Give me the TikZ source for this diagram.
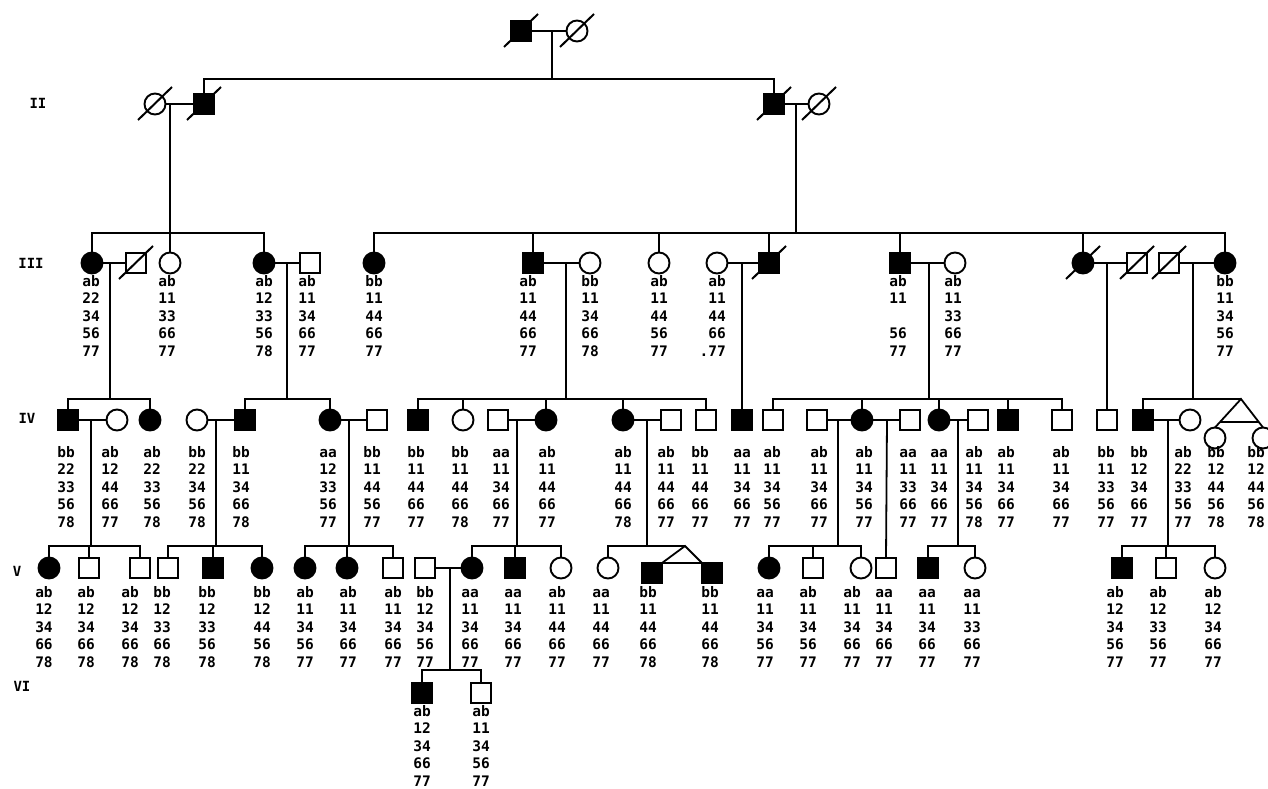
\documentclass[tikz,border=0pt]{standalone}
\usepackage{fontspec}
\usetikzlibrary{calc}
\newfontfamily\gtf{DejaVu Sans Mono}
\newcommand\deadmark[1]{\draw[slash] (#1.center) ++(-17,16) -- ++(34,-33);}
\newcommand\gtxt[5]{\rule{0pt}{11pt}#1\\#2\\#3\\#4\\#5}
\begin{document}
\begin{tikzpicture}[x=1pt,y=-1pt,
  every node/.style={inner sep=0pt, outer sep=0pt},
  sym/.style={draw, line width=1.9pt, minimum size=20pt},
  msq/.style={sym, rectangle},
  fsq/.style={msq, fill=black},
  oci/.style={sym, circle, minimum size=21pt},
  fci/.style={oci, fill=black},
  ln/.style={line width=1.8pt},
  slash/.style={line width=2pt},
  gt/.style={font=\gtf\bfseries\fontsize{14.5}{17.5}\selectfont, align=center, anchor=north},
  gen/.style={font=\gtf\bfseries\fontsize{14}{16}\selectfont}
]
\useasboundingbox (0,0) rectangle (1268,789);
\fill[white] (0,0) rectangle (1268,789);

% generation labels
\node[gen] (gII) at (38,103) {II};
\node[gen] (gIII) at (31,263) {III};
\node[gen] (gIV) at (27,418) {IV};
\node[gen] (gV) at (17,571) {V};
\node[gen] (gVI) at (22,686) {VI};

% ---------------- Generation I
\node[fsq] (I1) at (521,31) {};
\node[oci] (I2) at (577,31) {};
\draw[ln] (I1) -- (I2);
\coordinate (mI) at (552,31);
\coordinate (sII) at (552,79);
\draw[ln] (mI) -- (sII);

% ---------------- Generation II
\node[oci] (II1) at (155,104) {};
\node[fsq] (II2) at (204,104) {};
\node[fsq] (II3) at (774,104) {};
\node[oci] (II4) at (819,104) {};
\draw[ln] (II2.north) |- (sII) -| (II3.north);
\draw[ln] (II1) -- (II2);
\draw[ln] (II3) -- (II4);
\coordinate (mIIa) at (170,104); \coordinate (sIIIa) at (170,233);
\coordinate (mIIb) at (796,104); \coordinate (sIIIb) at (796,233);
\draw[ln] (mIIa) -- (sIIIa);
\draw[ln] (mIIb) -- (sIIIb);

% ---------------- Generation III
\node[fci] (III1) at (92,263) {};
\node[msq] (III2) at (136,263) {};
\node[oci] (III3) at (170,263) {};
\node[fci] (III4) at (264,263) {};
\node[msq] (III5) at (310,263) {};
\node[fci] (III6) at (374,263) {};
\node[fsq] (III7) at (533,263) {};
\node[oci] (III8) at (590,263) {};
\node[oci] (III9) at (659,263) {};
\node[oci] (III10) at (717,263) {};
\node[fsq] (III11) at (769,263) {};
\node[fsq] (III12) at (900,263) {};
\node[oci] (III13) at (955,263) {};
\node[fci] (III14) at (1083,263) {};
\node[msq] (III15) at (1137,263) {};
\node[msq] (III16) at (1169,263) {};
\node[fci] (III17) at (1225,263) {};

\draw[ln] (III1.north) |- (sIIIa) -| (III4.north);
\draw[ln] (sIIIa) -- (III3.north);
\draw[ln] (III6.north) |- (sIIIb) -| (III17.north);
\foreach \n in {III7,III9,III11,III12,III14}
  \draw[ln] (\n.north) -- (\n.north |- sIIIb);

\draw[ln] (III1) -- (III2);
\draw[ln] (III4) -- (III5);
\draw[ln] (III7) -- (III8);
\draw[ln] (III10) -- (III11);
\draw[ln] (III12) -- (III13);
\draw[ln] (III14) -- (III15);
\draw[ln] (III16) -- (III17);

\coordinate (m3a) at (110,263); \coordinate (s4a) at (110,399);
\coordinate (m3b) at (287,263); \coordinate (s4b) at (287,399);
\coordinate (m3c) at (566,263); \coordinate (s4c) at (566,399);
\coordinate (m3d) at (742,263);
\coordinate (m3e) at (929,263); \coordinate (s4d) at (929,399);
\coordinate (m3f) at (1107,263);
\coordinate (m3g) at (1193,263); \coordinate (s4e) at (1193,399);
\draw[ln] (m3a) -- (s4a);
\draw[ln] (m3b) -- (s4b);
\draw[ln] (m3c) -- (s4c);
\draw[ln] (m3e) -- (s4d);
\draw[ln] (m3g) -- (s4e);

\node[gt] (L31) at (91,275) {\gtxt{ab}{22}{34}{56}{77}};
\node[gt] (L33) at (167,275) {\gtxt{ab}{11}{33}{66}{77}};
\node[gt] (L34) at (264,275) {\gtxt{ab}{12}{33}{56}{78}};
\node[gt] (L35) at (307,275) {\gtxt{ab}{11}{34}{66}{77}};
\node[gt] (L36) at (374,275) {\gtxt{bb}{11}{44}{66}{77}};
\node[gt] (L37) at (528,275) {\gtxt{ab}{11}{44}{66}{77}};
\node[gt] (L38) at (590,275) {\gtxt{bb}{11}{34}{66}{78}};
\node[gt] (L39) at (659,275) {\gtxt{ab}{11}{44}{56}{77}};
\node[gt] (L310) at (717,275) {\gtxt{ab}{11}{44}{66}{\llap{.}77}};
\node[gt] (L312) at (898,275) {\gtxt{ab}{11}{\mbox{}}{56}{77}};
\node[gt] (L313) at (953,275) {\gtxt{ab}{11}{33}{66}{77}};
\node[gt] (L317) at (1225,275) {\gtxt{bb}{11}{34}{56}{77}};

% ---------------- Generation IV
\node[fsq] (IV1) at (68,420) {};
\node[oci] (IV2) at (117,420) {};
\node[fci] (IV3) at (150,420) {};
\node[oci] (IV4) at (197,420) {};
\node[fsq] (IV5) at (245,420) {};
\node[fci] (IV6) at (330,420) {};
\node[msq] (IV7) at (377,420) {};
\node[fsq] (IV8) at (418,420) {};
\node[oci] (IV9) at (463,420) {};
\node[msq] (IV10) at (498,420) {};
\node[fci] (IV11) at (546,420) {};
\node[fci] (IV12) at (623,420) {};
\node[msq] (IV13) at (671,420) {};
\node[msq] (IV14) at (706,420) {};
\node[fsq] (IV15) at (742,420) {};
\node[msq] (IV16) at (773,420) {};
\node[msq] (IV17) at (817,420) {};
\node[fci] (IV18) at (862,420) {};
\node[msq] (IV19) at (910,420) {};
\node[fci] (IV20) at (939,420) {};
\node[msq] (IV21) at (978,420) {};
\node[fsq] (IV22) at (1008,420) {};
\node[msq] (IV23) at (1062,420) {};
\node[msq] (IV24) at (1107,420) {};
\node[fsq] (IV25) at (1143,420) {};
\node[oci] (IV26) at (1190,420) {};
\node[oci] (IV27) at (1215,438) {};
\node[oci] (IV28) at (1263,438) {};
\coordinate (apIV) at (1241,399);

\draw[ln] (m3d) -- (IV15.north);
\draw[ln] (m3f) -- (IV24.north);
\draw[ln] (IV1.north) |- (s4a) -| (IV3.north);
\draw[ln] (IV5.north) |- (s4b) -| (IV6.north);
\draw[ln] (IV8.north) |- (s4c) -| (IV14.north);
\foreach \n in {IV9,IV11,IV12}
  \draw[ln] (\n.north) -- (\n.north |- s4c);
\draw[ln] (IV16.north) |- (s4d) -| (IV23.north);
\foreach \n in {IV18,IV20,IV22}
  \draw[ln] (\n.north) -- (\n.north |- s4d);
\draw[ln] (IV25.north) |- (s4e) -- (apIV);
\draw[ln] (IV27.north) -- (apIV) -- (IV28.north);
\draw[ln] ($(apIV)!0.8!(IV27.north)$) -- ($(apIV)!0.8!(IV28.north)$);

\draw[ln] (IV1) -- (IV2);
\draw[ln] (IV4) -- (IV5);
\draw[ln] (IV6) -- (IV7);
\draw[ln] (IV10) -- (IV11);
\draw[ln] (IV12) -- (IV13);
\draw[ln] (IV17) -- (IV18);
\draw[ln] (IV18) -- (IV19);
\draw[ln] (IV20) -- (IV21);
\draw[ln] (IV25) -- (IV26);

\coordinate (m4a) at (91,420);   \coordinate (s5a) at (91,546);
\coordinate (m4b) at (216,420);  \coordinate (s5b) at (216,546);
\coordinate (m4c) at (349,420);  \coordinate (s5c) at (349,546);
\coordinate (m4d) at (517,420);  \coordinate (s5d) at (517,546);
\coordinate (m4e) at (647,420);  \coordinate (s5e) at (647,546);
\coordinate (m4f) at (838,420);  \coordinate (s5f) at (838,546);
\coordinate (m4g) at (887,420);
\coordinate (m4h) at (958,420);  \coordinate (s5g) at (958,546);
\coordinate (m4i) at (1168,420); \coordinate (s5h) at (1168,546);
\draw[ln] (m4a) -- (s5a);
\draw[ln] (m4b) -- (s5b);
\draw[ln] (m4c) -- (s5c);
\draw[ln] (m4d) -- (s5d);
\draw[ln] (m4e) -- (s5e);
\draw[ln] (m4f) -- (s5f);
\draw[ln] (m4h) -- (s5g);
\draw[ln] (m4i) -- (s5h);

\node[gt] (L41) at (66,446) {\gtxt{bb}{22}{33}{56}{78}};
\node[gt] (L42) at (110,446) {\gtxt{ab}{12}{44}{66}{77}};
\node[gt] (L43) at (152,446) {\gtxt{ab}{22}{33}{56}{78}};
\node[gt] (L44) at (197,446) {\gtxt{bb}{22}{34}{56}{78}};
\node[gt] (L45) at (241,446) {\gtxt{bb}{11}{34}{66}{78}};
\node[gt] (L46) at (328,446) {\gtxt{aa}{12}{33}{56}{77}};
\node[gt] (L47) at (372,446) {\gtxt{bb}{11}{44}{56}{77}};
\node[gt] (L48) at (416,446) {\gtxt{bb}{11}{44}{66}{77}};
\node[gt] (L49) at (460,446) {\gtxt{bb}{11}{44}{66}{78}};
\node[gt] (L410) at (501,446) {\gtxt{aa}{11}{34}{66}{77}};
\node[gt] (L411) at (547,446) {\gtxt{ab}{11}{44}{66}{77}};
\node[gt] (L412) at (623,446) {\gtxt{ab}{11}{44}{66}{78}};
\node[gt] (L413) at (666,446) {\gtxt{ab}{11}{44}{66}{77}};
\node[gt] (L414) at (700,446) {\gtxt{bb}{11}{44}{66}{77}};
\node[gt] (L415) at (742,446) {\gtxt{aa}{11}{34}{66}{77}};
\node[gt] (L416) at (772,446) {\gtxt{ab}{11}{34}{56}{77}};
\node[gt] (L417) at (819,446) {\gtxt{ab}{11}{34}{66}{77}};
\node[gt] (L418) at (864,446) {\gtxt{ab}{11}{34}{56}{77}};
\node[gt] (L419) at (908,446) {\gtxt{aa}{11}{33}{66}{77}};
\node[gt] (L420) at (939,446) {\gtxt{aa}{11}{34}{66}{77}};
\node[gt] (L421) at (974,446) {\gtxt{ab}{11}{34}{56}{78}};
\node[gt] (L422) at (1006,446) {\gtxt{ab}{11}{34}{66}{77}};
\node[gt] (L423) at (1061,446) {\gtxt{ab}{11}{34}{66}{77}};
\node[gt] (L424) at (1106,446) {\gtxt{bb}{11}{33}{56}{77}};
\node[gt] (L425) at (1139,446) {\gtxt{bb}{12}{34}{66}{77}};
\node[gt] (L426) at (1183,446) {\gtxt{ab}{22}{33}{56}{77}};
\node[gt] (L427) at (1216,446) {\gtxt{bb}{12}{44}{56}{78}};
\node[gt] (L428) at (1256,446) {\gtxt{bb}{12}{44}{56}{78}};

% ---------------- Generation V
\node[fci] (V1) at (49,568) {};
\node[msq] (V2) at (89,568) {};
\node[msq] (V3) at (140,568) {};
\node[msq] (V4) at (168,568) {};
\node[fsq] (V5) at (213,568) {};
\node[fci] (V6) at (262,568) {};
\node[fci] (V7) at (305,568) {};
\node[fci] (V8) at (347,568) {};
\node[msq] (V9) at (393,568) {};
\node[msq] (V10) at (425,568) {};
\node[fci] (V11) at (472,568) {};
\node[fsq] (V12) at (515,568) {};
\node[oci] (V13) at (561,568) {};
\node[oci] (V14) at (608,568) {};
\node[fsq] (V15) at (652,573) {};
\node[fsq] (V16) at (712,573) {};
\node[fci] (V17) at (769,568) {};
\node[msq] (V18) at (813,568) {};
\node[oci] (V19) at (861,568) {};
\node[msq] (V20) at (886,568) {};
\node[fsq] (V21) at (928,568) {};
\node[oci] (V22) at (975,568) {};
\node[fsq] (V23) at (1122,568) {};
\node[msq] (V24) at (1166,568) {};
\node[oci] (V25) at (1215,568) {};
\coordinate (apV) at (685,546);

\draw[ln] (V1.north) |- (s5a) -| (V3.north);
\draw[ln] (V2.north) -- (V2.north |- s5a);
\draw[ln] (V4.north) |- (s5b) -| (V6.north);
\draw[ln] (V5.north) -- (V5.north |- s5b);
\draw[ln] (V7.north) |- (s5c) -| (V9.north);
\draw[ln] (V8.north) -- (V8.north |- s5c);
\draw[ln] (V11.north) |- (s5d) -| (V13.north);
\draw[ln] (V12.north) -- (V12.north |- s5d);
\draw[ln] (V14.north) |- (s5e) -- (apV);
\draw[ln] (V15.north east) -- (apV) -- (V16.north west);
\draw[ln] (V15.north east) -- (V16.north west);
\draw[ln] (V17.north) |- (s5f) -| (V19.north);
\draw[ln] (V18.north) -- (V18.north |- s5f);
\draw[ln] (m4g) -- (V20.north);
\draw[ln] (V21.north) |- (s5g) -| (V22.north);
\draw[ln] (V23.north) |- (s5h) -| (V25.north);
\draw[ln] (V24.north) -- (V24.north |- s5h);

\draw[ln] (V10) -- (V11);
\coordinate (m5) at (450,568); \coordinate (s6) at (450,670);
\draw[ln] (m5) -- (s6);

\node[gt] (L51) at (44,586) {\gtxt{ab}{12}{34}{66}{78}};
\node[gt] (L52) at (86,586) {\gtxt{ab}{12}{34}{66}{78}};
\node[gt] (L53) at (130,586) {\gtxt{ab}{12}{34}{66}{78}};
\node[gt] (L54) at (162,586) {\gtxt{bb}{12}{33}{66}{78}};
\node[gt] (L55) at (207,586) {\gtxt{bb}{12}{33}{56}{78}};
\node[gt] (L56) at (262,586) {\gtxt{bb}{12}{44}{56}{78}};
\node[gt] (L57) at (305,586) {\gtxt{ab}{11}{34}{56}{77}};
\node[gt] (L58) at (348,586) {\gtxt{ab}{11}{34}{66}{77}};
\node[gt] (L59) at (393,586) {\gtxt{ab}{11}{34}{66}{77}};
\node[gt] (L510) at (425,586) {\gtxt{bb}{12}{34}{56}{77}};
\node[gt] (L511) at (470,586) {\gtxt{aa}{11}{34}{66}{77}};
\node[gt] (L512) at (513,586) {\gtxt{aa}{11}{34}{66}{77}};
\node[gt] (L513) at (557,586) {\gtxt{ab}{11}{44}{66}{77}};
\node[gt] (L514) at (601,586) {\gtxt{aa}{11}{44}{66}{77}};
\node[gt] (L515) at (648,586) {\gtxt{bb}{11}{44}{66}{78}};
\node[gt] (L516) at (710,586) {\gtxt{bb}{11}{44}{66}{78}};
\node[gt] (L517) at (765,586) {\gtxt{aa}{11}{34}{56}{77}};
\node[gt] (L518) at (808,586) {\gtxt{ab}{11}{34}{56}{77}};
\node[gt] (L519) at (852,586) {\gtxt{ab}{11}{34}{66}{77}};
\node[gt] (L520) at (884,586) {\gtxt{aa}{11}{34}{66}{77}};
\node[gt] (L521) at (927,586) {\gtxt{aa}{11}{34}{66}{77}};
\node[gt] (L522) at (972,586) {\gtxt{aa}{11}{33}{66}{77}};
\node[gt] (L523) at (1115,586) {\gtxt{ab}{12}{34}{56}{77}};
\node[gt] (L524) at (1158,586) {\gtxt{ab}{12}{33}{56}{77}};
\node[gt] (L525) at (1213,586) {\gtxt{ab}{12}{34}{66}{77}};

% ---------------- Generation VI
\node[fsq] (VI1) at (422,693) {};
\node[msq] (VI2) at (481,693) {};
\draw[ln] (VI1.north) |- (s6) -| (VI2.north);
\node[gt] (L61) at (422,705) {\gtxt{ab}{12}{34}{66}{77}};
\node[gt] (L62) at (481,705) {\gtxt{ab}{11}{34}{56}{77}};

% ---------------- deceased marks
\deadmark{I1}
\deadmark{I2}
\deadmark{II1}
\deadmark{II2}
\deadmark{II3}
\deadmark{II4}
\deadmark{III2}
\deadmark{III11}
\deadmark{III14}
\deadmark{III15}
\deadmark{III16}
\end{tikzpicture}
\end{document}
